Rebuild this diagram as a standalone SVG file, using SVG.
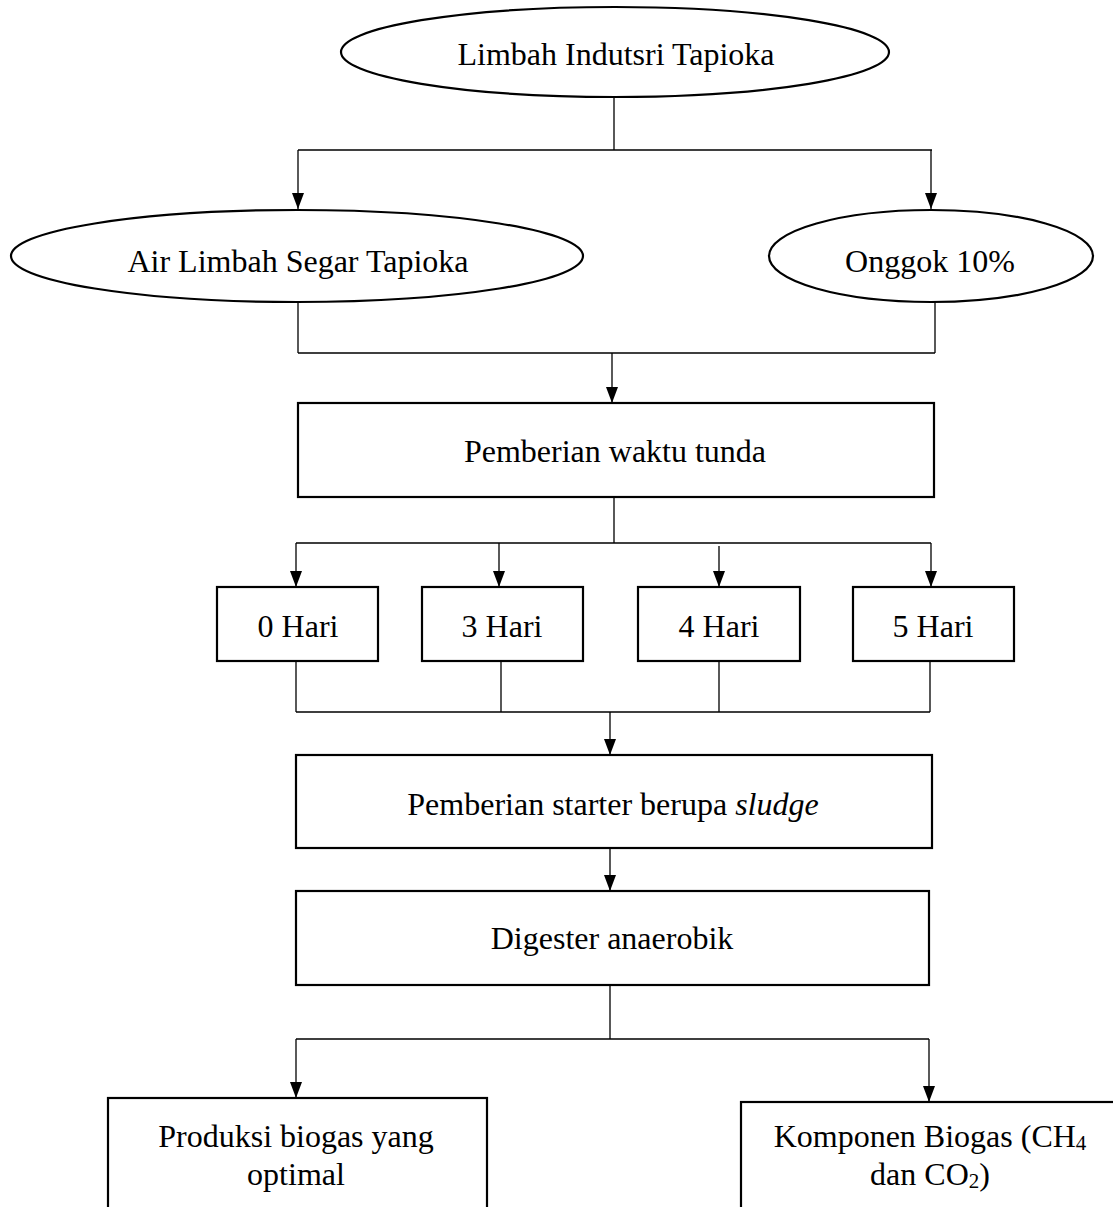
<svg xmlns="http://www.w3.org/2000/svg" width="1113" height="1207" viewBox="0 0 1113 1207">
<style>
.n{fill:#fff;stroke:#000;stroke-width:2.2}
.t{font-family:"Liberation Serif","Times New Roman",serif;font-size:32px;fill:#000;text-anchor:middle}
.c{fill:none;stroke:#000;stroke-width:1.3}
.a{fill:none;stroke:#000;stroke-width:1.3;marker-end:url(#ah)}
</style>
<defs>
<marker id="ah" viewBox="0 0 16 12" refX="16" refY="6" markerWidth="16" markerHeight="12" markerUnits="userSpaceOnUse" orient="auto">
<path d="M0,0 L16,6 L0,12 z" fill="#000"/>
</marker>
</defs>
<rect width="1113" height="1207" fill="#fff"/>
<g id="connectors">
<path class="c" d="M614,97 V150 M298,150 H932"/>
<path class="a" d="M298,150 V209"/>
<path class="a" d="M931,150 V209"/>
<path class="c" d="M298,302 V353 M935,302 V353 M298,353 H935"/>
<path class="a" d="M612,353 V403"/>
<path class="c" d="M614,497 V543 M296,543 H931"/>
<path class="a" d="M296,543 V587"/>
<path class="a" d="M499,543 V587"/>
<path class="a" d="M719,546 V587"/>
<path class="a" d="M931,543 V587"/>
<path class="c" d="M296,661 V712 M501,661 V712 M719,661 V712 M930,661 V712 M296,712 H930"/>
<path class="a" d="M610,712 V755"/>
<path class="a" d="M610,848 V891"/>
<path class="c" d="M610,985 V1039 M296,1039 H929"/>
<path class="a" d="M296,1039 V1098"/>
<path class="a" d="M929,1039 V1102"/>
</g>
<g id="n1">
<ellipse class="n" cx="615" cy="52" rx="274" ry="45"/>
<text class="t" x="616" y="65">Limbah Indutsri Tapioka</text>
</g>
<g id="n2">
<ellipse class="n" cx="297" cy="256" rx="286" ry="46"/>
<text class="t" x="298" y="272">Air Limbah Segar Tapioka</text>
</g>
<g id="n3">
<ellipse class="n" cx="931" cy="256" rx="162" ry="46"/>
<text class="t" x="930" y="272">Onggok 10%</text>
</g>
<g id="n4">
<rect class="n" x="298" y="403" width="636" height="94"/>
<text class="t" x="615" y="462">Pemberian waktu tunda</text>
</g>
<g id="n5">
<rect class="n" x="217" y="587" width="161" height="74"/>
<text class="t" x="298" y="637">0 Hari</text>
</g>
<g id="n6">
<rect class="n" x="422" y="587" width="161" height="74"/>
<text class="t" x="502" y="637">3 Hari</text>
</g>
<g id="n7">
<rect class="n" x="638" y="587" width="162" height="74"/>
<text class="t" x="719" y="637">4 Hari</text>
</g>
<g id="n8">
<rect class="n" x="853" y="587" width="161" height="74"/>
<text class="t" x="933" y="637">5 Hari</text>
</g>
<g id="n9">
<rect class="n" x="296" y="755" width="636" height="93"/>
<text class="t" x="613" y="815">Pemberian starter berupa <tspan font-style="italic">sludge</tspan></text>
</g>
<g id="n10">
<rect class="n" x="296" y="891" width="633" height="94"/>
<text class="t" x="612" y="949">Digester anaerobik</text>
</g>
<g id="n11">
<rect class="n" x="108" y="1098" width="379" height="150"/>
<text class="t" x="296" y="1147">Produksi biogas yang</text>
<text class="t" x="296" y="1185">optimal</text>
</g>
<g id="n12">
<rect class="n" x="741" y="1102" width="420" height="150"/>
<text class="t" x="930" y="1147">Komponen Biogas (CH<tspan font-size="21" dy="3">4</tspan></text>
<text class="t" x="930" y="1185">dan CO<tspan font-size="21" dy="3">2</tspan><tspan dy="-3">)</tspan></text>
</g>
</svg>
